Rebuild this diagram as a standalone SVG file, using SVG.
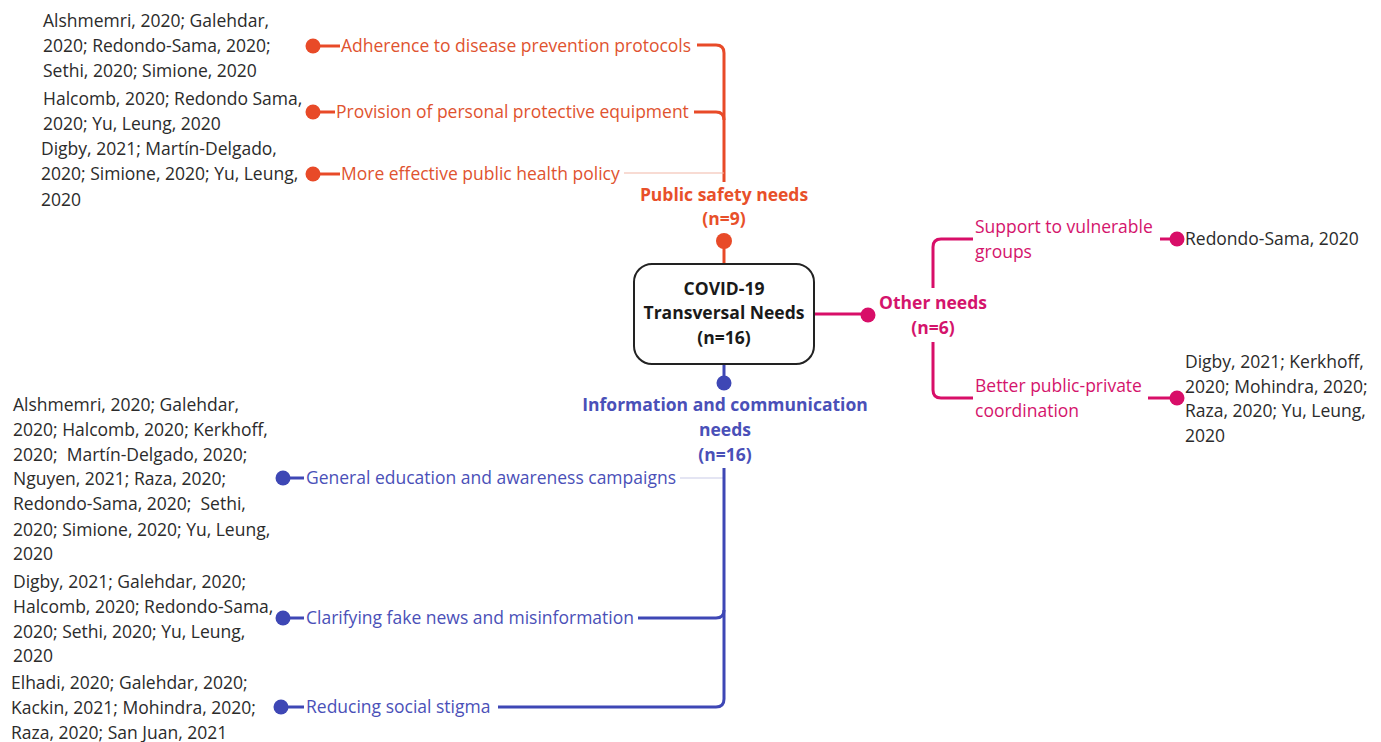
<svg xmlns="http://www.w3.org/2000/svg" width="1381" height="742" viewBox="0 0 1381 742">
<style>
text{font-family:"Open Sans","Liberation Sans",sans-serif;font-size:17.5px;}
.ref{fill:#2b2b2b;}
.lo{fill:#E0532F;}
.lp{fill:#D4146C;}
.lb{fill:#4A50B8;}
.ho{font-weight:bold;fill:#E8502A;}
.hp{font-weight:bold;fill:#D4146C;}
.hb{font-weight:bold;fill:#4A50B8;}
.hc{font-weight:bold;fill:#1a1a1a;}
.o{stroke:#E84A28;fill:none;stroke-width:3;}
.ot{stroke:#F2B8A8;fill:none;stroke-width:1.2;}
.p{stroke:#D80E68;fill:none;stroke-width:3;}
.b{stroke:#3E47B5;fill:none;stroke-width:3;}
.bt{stroke:#C9CBE8;fill:none;stroke-width:1.2;}
.do{fill:#E84A28;}
.dp{fill:#D80E68;}
.db{fill:#3E47B5;}
</style>
<rect width="1381" height="742" fill="#ffffff"/>
<g id="connectors">
  <path class="o" d="M697 45 H716 Q724 45 724 53 V182"/>
  <path class="o" d="M694 112 H716 Q724 112 724 120"/>
  <path class="ot" d="M624 173 H724"/>
  <path class="o" d="M724 241 V265"/>
  <path class="o" d="M313 46 H340"/>
  <path class="o" d="M313 112 H335"/>
  <path class="o" d="M313 174 H340"/>
  <path class="p" d="M814 314 H868"/>
  <path class="p" d="M933 288 V247 Q933 239 941 239 H973"/>
  <path class="p" d="M933 342 V390 Q933 398 941 398 H973"/>
  <path class="p" d="M1160 239 H1176"/>
  <path class="p" d="M1148 398 H1176"/>
  <path class="b" d="M724 364 V383"/>
  <path class="bt" d="M680 478 H724"/>
  <path class="b" d="M724 468 V699 Q724 707 716 707 H498"/>
  <path class="b" d="M638 618 H716 Q724 618 724 610"/>
  <path class="b" d="M283 478 H304"/>
  <path class="b" d="M283 618 H304"/>
  <path class="b" d="M281 707 H304"/>
</g>
<g id="center">
  <rect x="634" y="264" width="180" height="100" rx="18" fill="#ffffff" stroke="#222" stroke-width="2"/>
  <text class="hc" x="724" y="295" text-anchor="middle">COVID-19</text>
  <text class="hc" x="724" y="319" text-anchor="middle">Transversal Needs</text>
  <text class="hc" x="724" y="344" text-anchor="middle">(n=16)</text>
</g>
<g id="public-safety">
  <circle class="do" cx="724" cy="241" r="8"/>
  <text class="ho" x="724" y="201" text-anchor="middle">Public safety needs</text>
  <text class="ho" x="724" y="225" text-anchor="middle">(n=9)</text>
</g>
<g id="ps-adherence">
  <circle class="do" cx="313" cy="46" r="7.5"/>
  <text class="lo" x="341" y="52">Adherence to disease prevention protocols</text>
  <text class="ref" x="43" y="27">Alshmemri, 2020; Galehdar,</text>
  <text class="ref" x="43" y="52">2020; Redondo-Sama, 2020;</text>
  <text class="ref" x="43" y="77">Sethi, 2020; Simione, 2020</text>
</g>
<g id="ps-ppe">
  <circle class="do" cx="313" cy="112" r="7.5"/>
  <text class="lo" x="336" y="118">Provision of personal protective equipment</text>
  <text class="ref" x="43" y="105">Halcomb, 2020; Redondo Sama,</text>
  <text class="ref" x="43" y="130">2020; Yu, Leung, 2020</text>
</g>
<g id="ps-policy">
  <circle class="do" cx="313" cy="174" r="7.5"/>
  <text class="lo" x="341" y="180">More effective public health policy</text>
  <text class="ref" x="41" y="155">Digby, 2021; Martín-Delgado,</text>
  <text class="ref" x="41" y="180">2020; Simione, 2020; Yu, Leung,</text>
  <text class="ref" x="41" y="206">2020</text>
</g>
<g id="other">
  <circle class="dp" cx="868" cy="315" r="7.5"/>
  <text class="hp" x="933" y="309" text-anchor="middle">Other needs</text>
  <text class="hp" x="933" y="334" text-anchor="middle">(n=6)</text>
</g>
<g id="other-vulnerable">
  <text class="lp" x="975" y="233">Support to vulnerable</text>
  <text class="lp" x="975" y="258">groups</text>
  <circle class="dp" cx="1177" cy="239" r="7.5"/>
  <text class="ref" x="1185" y="245">Redondo-Sama, 2020</text>
</g>
<g id="other-coordination">
  <text class="lp" x="975" y="392">Better public-private</text>
  <text class="lp" x="975" y="417">coordination</text>
  <circle class="dp" cx="1177" cy="398" r="7.5"/>
  <text class="ref" x="1185" y="368">Digby, 2021; Kerkhoff,</text>
  <text class="ref" x="1185" y="393">2020; Mohindra, 2020;</text>
  <text class="ref" x="1185" y="417">Raza, 2020; Yu, Leung,</text>
  <text class="ref" x="1185" y="442">2020</text>
</g>
<g id="information">
  <circle class="db" cx="724" cy="383" r="7.5"/>
  <text class="hb" x="725" y="411" text-anchor="middle">Information and communication</text>
  <text class="hb" x="725" y="436" text-anchor="middle">needs</text>
  <text class="hb" x="725" y="461" text-anchor="middle">(n=16)</text>
</g>
<g id="info-education">
  <circle class="db" cx="283" cy="478" r="7.5"/>
  <text class="lb" x="306" y="484">General education and awareness campaigns</text>
  <text class="ref" x="13" y="411">Alshmemri, 2020; Galehdar,</text>
  <text class="ref" x="13" y="436">2020; Halcomb, 2020; Kerkhoff,</text>
  <text class="ref" x="13" y="461" xml:space="preserve">2020;  Martín-Delgado, 2020;</text>
  <text class="ref" x="13" y="485">Nguyen, 2021; Raza, 2020;</text>
  <text class="ref" x="13" y="510" xml:space="preserve">Redondo-Sama, 2020;  Sethi,</text>
  <text class="ref" x="13" y="536">2020; Simione, 2020; Yu, Leung,</text>
  <text class="ref" x="13" y="560">2020</text>
</g>
<g id="info-fake-news">
  <circle class="db" cx="283" cy="618" r="7.5"/>
  <text class="lb" x="306" y="624">Clarifying fake news and misinformation</text>
  <text class="ref" x="13" y="588">Digby, 2021; Galehdar, 2020;</text>
  <text class="ref" x="13" y="613">Halcomb, 2020; Redondo-Sama,</text>
  <text class="ref" x="13" y="638">2020; Sethi, 2020; Yu, Leung,</text>
  <text class="ref" x="13" y="662">2020</text>
</g>
<g id="info-stigma">
  <circle class="db" cx="281" cy="707" r="7.5"/>
  <text class="lb" x="306" y="713">Reducing social stigma</text>
  <text class="ref" x="11" y="689">Elhadi, 2020; Galehdar, 2020;</text>
  <text class="ref" x="11" y="714">Kackin, 2021; Mohindra, 2020;</text>
  <text class="ref" x="11" y="739">Raza, 2020; San Juan, 2021</text>
</g>
</svg>
